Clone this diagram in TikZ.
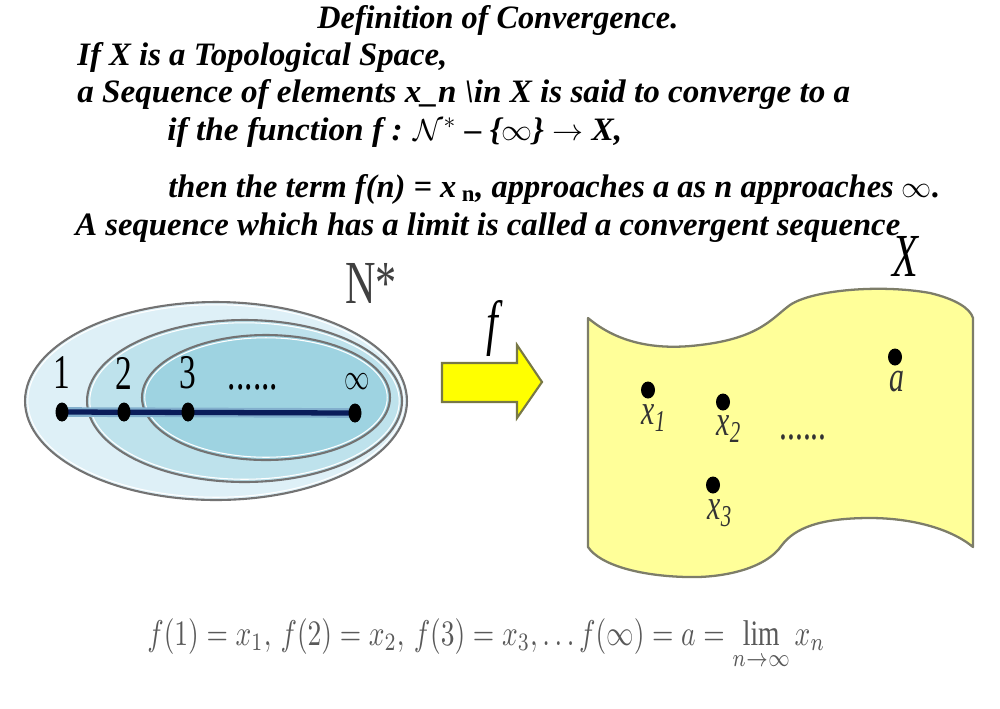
\documentclass[tikz,border=0pt]{standalone}
\usepackage{fontspec}
\setmainfont{Liberation Serif}
\usepackage{amsmath,amssymb}
\usetikzlibrary{positioning}
\definecolor{setouter}{RGB}{222,240,247}
\definecolor{setmid}{RGB}{190,226,236}
\definecolor{setinner}{RGB}{158,211,225}
\definecolor{seqnavy}{RGB}{10,28,90}
\definecolor{seqhalo}{RGB}{130,175,205}
\definecolor{sheetyellow}{RGB}{255,255,153}
\definecolor{sheetedge}{RGB}{125,125,105}
\definecolor{mapyellow}{RGB}{255,255,0}
\definecolor{mapedge}{RGB}{120,120,70}
\newcommand{\tall}[1]{\scalebox{1}[1.45]{#1}}
\newcommand{\wline}[2]{\resizebox{#1}{1.2\height}{#2}}

\begin{document}
\begin{tikzpicture}[x=0.02cm, y=-0.02cm,
    defline/.style={anchor=base west, inner sep=0pt, font=\fontsize{15.5}{18}\selectfont\bfseries\itshape},
    numlabel/.style={inner sep=0pt, font=\fontsize{19}{22}\selectfont},
    ptlabel/.style={inner sep=0pt, font=\fontsize{17}{20}\selectfont\itshape, text=black!80},
    bigletter/.style={inner sep=0pt, font=\fontsize{24}{28}\selectfont\itshape},
    setrim/.style={draw=black!55, line width=1.2pt},
    sheet/.style={fill=sheetyellow, draw=sheetedge, line width=1.3pt, line join=round},
    maparrow/.style={fill=mapyellow, draw=mapedge, line width=1.2pt, line join=miter},
    dot/.style={fill=black}
  ]
  \useasboundingbox (0,0) rectangle (1000,708);

  % definition text
  \node[defline] (title) at (317,28) {\wline{7.22cm}{Definition of Convergence.}};
  \node[defline] (line1) at (77,65) {\wline{7.40cm}{If X is a Topological Space,}};
  \node[defline] (line2) at (77,102) {\wline{15.46cm}{a Sequence of elements x\_n \textbackslash in X is said to converge to a}};
  \node[defline] (line3) at (167,140) {\wline{9.10cm}{if the function f : $\mathcal{N}^{*}$ -- \{$\infty$\} $\rightarrow$ X,}};
  \node[defline] (line4) at (168,197) {\wline{15.44cm}{then the term f(n) = x\,\textsubscript{\upshape n}, approaches a as n approaches $\infty$.}};
  \node[defline] (line5) at (75,235) {\wline{16.50cm}{A sequence which has a limit is called a convergent sequence}};

  % nested sets of N*
  \foreach \cx/\cy/\rx/\ry/\col in {216/401/3.82/1.98/setouter, 244.5/401/3.15/1.62/setmid, 266/397.5/2.48/1.25/setinner}{
    \fill[\col] (\cx,\cy) ellipse [x radius=\rx cm, y radius=\ry cm];
    \draw[setrim] (\cx,\cy) ellipse [x radius=\rx cm, y radius=\ry cm];
    \draw[white, line width=0.6pt] (\cx,\cy) ellipse [x radius={\rx cm-0.055cm}, y radius={\ry cm-0.055cm}];
  }
  \coordinate (p1) at (62,412);
  \coordinate (p2) at (124,412);
  \coordinate (p3) at (188,412);
  \coordinate (pinf) at (355,413);
  \draw[seqhalo, line width=5.5pt] (p1) -- (pinf);
  \draw[seqnavy, line width=3pt] (p1) -- (pinf);
  \foreach \p in {p1,p2,p3,pinf}
    \fill[dot] (\p) ellipse [x radius=0.13cm, y radius=0.19cm];
  \node[numlabel] (n1) at (62,373) {\tall{1}};
  \node[numlabel] (n2) at (124,373) {\tall{2}};
  \node[numlabel] (n3) at (188,373) {\tall{3}};
  \node[numlabel] (ndots) at (253,387) {\tall{......}};
  \node[numlabel, font=\fontsize{14}{16}\selectfont] (ninf) at (357,382) {\tall{$\infty$}};
  \node[anchor=base west, inner sep=0pt, font=\fontsize{24}{26}\selectfont, text=black!75] (nstar) at (345,303) {\tall{N*}};

  % the map f
  \draw[maparrow] (442,363) -- (517,363) -- (517,345) -- (542,382) -- (517,418) -- (517,402) -- (442,402) -- cycle;
  \node[bigletter] (flabel) at (492,328) {\tall{f}};

  % the space X
  \draw[sheet] (588,318) .. controls (620,345) and (660,350) .. (700,345)
    .. controls (760,338) and (772,318) .. (790,305)
    .. controls (812,290) and (880,284) .. (930,293)
    .. controls (955,299) and (970,308) .. (973,318)
    -- (973,547)
    .. controls (950,528) and (910,518) .. (870,518)
    .. controls (820,518) and (795,528) .. (782,545)
    .. controls (765,570) and (720,578) .. (687,577)
    .. controls (640,576) and (600,565) .. (588,547) -- cycle;
  \node[bigletter] (xlabel) at (905,256) {\tall{X}};
  \coordinate (x1) at (648,390);
  \coordinate (x2) at (723,402);
  \coordinate (x3) at (713,485);
  \coordinate (lim) at (895,357);
  \foreach \p in {x1,x2,x3,lim}
    \fill[dot] (\p) ellipse [x radius=0.14cm, y radius=0.17cm];
  \node[ptlabel] (lx1) at (654,418) {\tall{x\textsubscript{1}}};
  \node[ptlabel] (lx2) at (729,429) {\tall{x\textsubscript{2}}};
  \node[ptlabel] (lx3) at (720,513) {\tall{x\textsubscript{3}}};
  \node[ptlabel] (la) at (897,382) {\tall{a}};
  \node[ptlabel, font=\fontsize{18}{20}\selectfont] (xdots) at (803,437) {\tall{......}};

  % images of the sequence
  \node[anchor=base west, inner sep=0pt, text=black!65] (images) at (147,645)
    {\scalebox{1}[1.3]{\resizebox{13.56cm}{!}{$\displaystyle f(1)=x_1,\, f(2)=x_2,\, f(3)=x_3,\ldots f(\infty)=a=\lim_{n\to\infty}x_n$}}};
\end{tikzpicture}
\end{document}
